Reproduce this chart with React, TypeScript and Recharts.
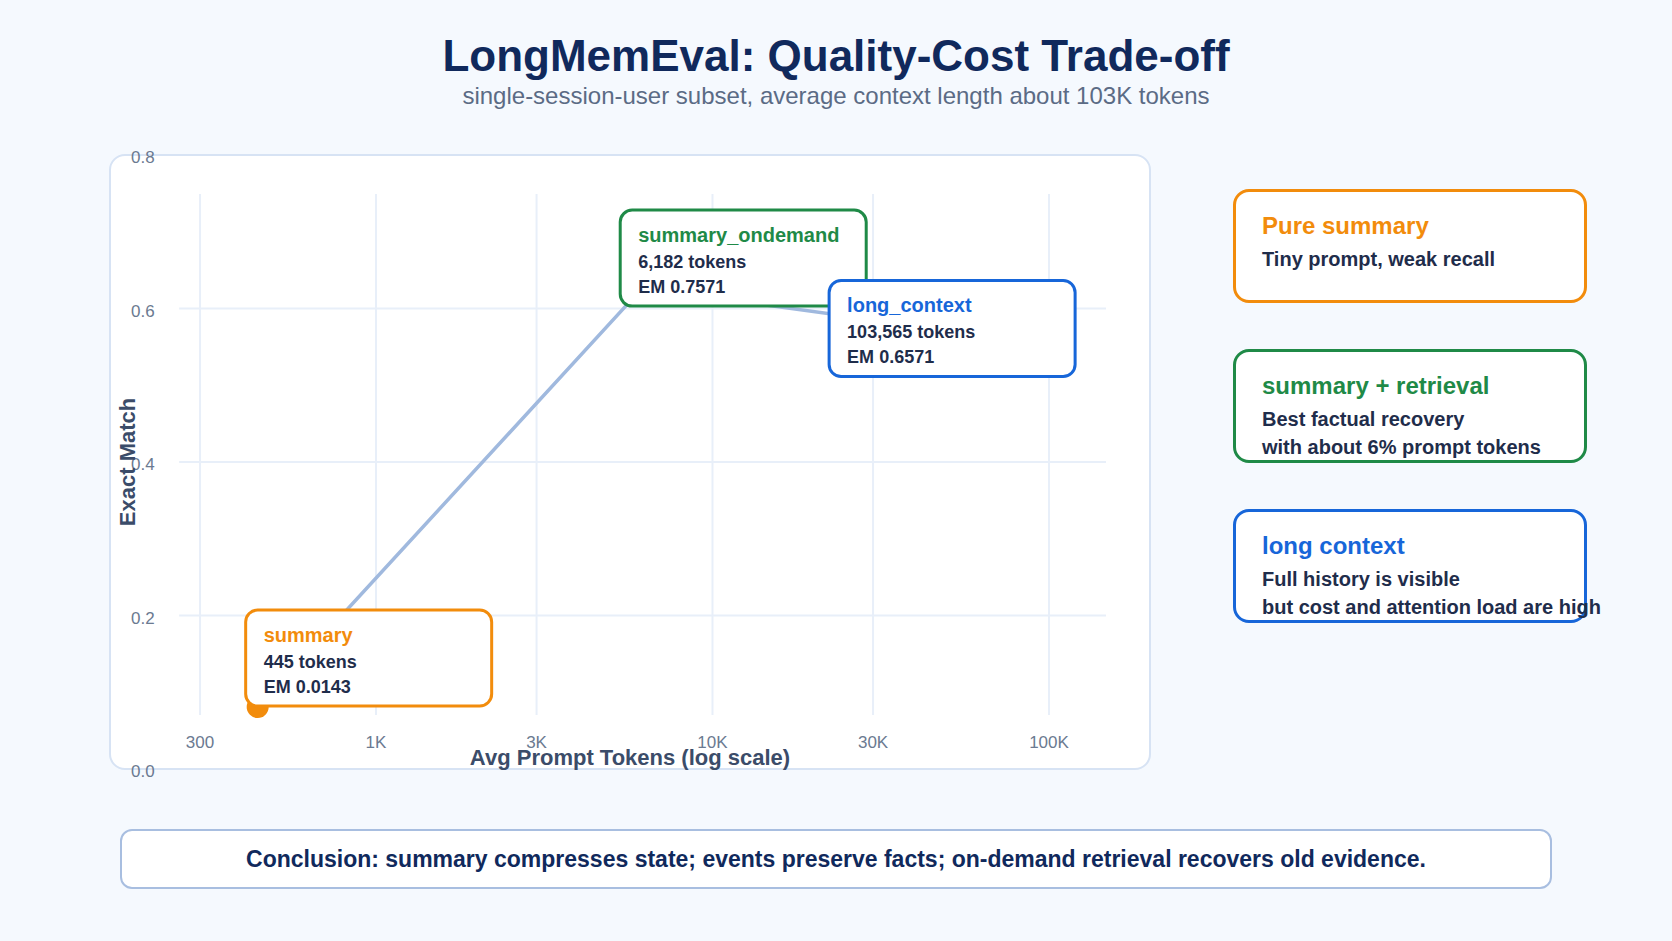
import {
  ComposedChart,
  Line,
  ReferenceDot,
  ReferenceLine,
  XAxis,
  YAxis,
} from "recharts";

// LongMemEval single-session-user results
const methods = ["summary", "summary_ondemand", "long_context"];
const avgPromptTokens = [445, 6182, 103565];
const exactMatch = [0.0143, 0.7571, 0.6571];
const methodColors = ["#f28c0c", "#1f8a47", "#1766d9"];

const xTicks = [300, 1000, 3000, 10000, 30000, 100000];
const xTickLabels = ["300", "1K", "3K", "10K", "30K", "100K"];
const yTicks = [0, 0.2, 0.4, 0.6, 0.8];
const yGridValues = [0.2, 0.4, 0.6];

const cardTitles = ["Pure summary", "summary + retrieval", "long context"];
const cardLines = [
  ["Tiny prompt, weak recall"],
  ["Best factual recovery", "with about 6% prompt tokens"],
  ["Full history is visible", "but cost and attention load are high"],
];

const conclusion =
  "Conclusion: summary compresses state; events preserve facts; on-demand retrieval recovers old evidence.";

// axis / layout settings
const X_DOMAIN: [number, number] = [162, 199600];
const DATA_Y_DOMAIN: [number, number] = [-0.0956, 0.9931];
const GRID_X: [number, number] = [260, 147700];
const GRID_Y: [number, number] = [0, 0.924];
const calloutOffsets = [
  [-12, -97],
  [-22, -78],
  [-225, -64],
];

const NAVY = "#10295c";
const INK = "#1f2d4b";
const GRID = "#e8eff9";
const FONT = '"Liberation Sans", Arial, sans-serif';

const rows = methods.map((m, i) => ({
  method: m,
  tokens: avgPromptTokens[i],
  em: exactMatch[i],
}));

const renderDot = (props: any) => (
  <circle
    key={`dot-${props.index}`}
    cx={props.cx}
    cy={props.cy}
    r={11}
    fill={methodColors[props.index]}
  />
);

function calloutShape(i: number) {
  return (props: any) => {
    const x = props.cx + calloutOffsets[i][0];
    const y = props.cy + calloutOffsets[i][1];
    return (
      <g>
        <rect
          x={x}
          y={y}
          width={246}
          height={96}
          rx={12}
          fill="#ffffff"
          stroke={methodColors[i]}
          strokeWidth={3}
        />
        <text x={x + 18} y={y + 32} fill={methodColors[i]} fontSize={20} fontWeight={700} fontFamily={FONT}>
          {methods[i]}
        </text>
        <text x={x + 18} y={y + 58} fill={INK} fontSize={18} fontWeight={700} fontFamily={FONT}>
          {avgPromptTokens[i].toLocaleString("en-US")} tokens
        </text>
        <text x={x + 18} y={y + 83} fill={INK} fontSize={18} fontWeight={700} fontFamily={FONT}>
          EM {exactMatch[i].toFixed(4)}
        </text>
      </g>
    );
  };
}

function Card({ index, top }: { index: number; top: number }) {
  const color = methodColors[index];
  return (
    <div
      style={{
        position: "absolute",
        left: 1233,
        top,
        width: 354,
        height: 114,
        boxSizing: "border-box",
        border: `3px solid ${color}`,
        borderRadius: 16,
        background: "#ffffff",
      }}
    >
      <div
        style={{
          position: "absolute",
          left: 26,
          top: 18.5,
          lineHeight: "30px",
          fontSize: 24,
          fontWeight: 700,
          color,
          whiteSpace: "nowrap",
        }}
      >
        {cardTitles[index]}
      </div>
      {cardLines[index].map((line, j) => (
        <div
          key={line}
          style={{
            position: "absolute",
            left: 26,
            top: 52.5 + j * 28,
            lineHeight: "28px",
            fontSize: 20,
            fontWeight: 700,
            color: INK,
            whiteSpace: "nowrap",
          }}
        >
          {line}
        </div>
      ))}
    </div>
  );
}

export default function App() {
  return (
    <div
      style={{
        position: "relative",
        width: 1672,
        height: 941,
        background: "#f5f9fe",
        fontFamily: FONT,
        overflow: "hidden",
      }}
    >
      <style>{`body { margin: 0; }`}</style>

      <div
        style={{
          position: "absolute",
          top: 31,
          width: "100%",
          textAlign: "center",
          fontSize: 44,
          lineHeight: "50px",
          fontWeight: 700,
          color: NAVY,
        }}
      >
        LongMemEval: Quality-Cost Trade-off
      </div>
      <div
        style={{
          position: "absolute",
          top: 82,
          width: "100%",
          textAlign: "center",
          fontSize: 24,
          lineHeight: "28px",
          color: "#5b6b85",
        }}
      >
        single-session-user subset, average context length about 103K tokens
      </div>

      {/* plot panel */}
      <div
        style={{
          position: "absolute",
          left: 109,
          top: 154,
          width: 1042,
          height: 616,
          boxSizing: "border-box",
          border: "2px solid #d7e3f4",
          borderRadius: 16,
          background: "#ffffff",
        }}
      />

      <div style={{ position: "absolute", left: 100, top: 140 }}>
        <ComposedChart
          width={1060}
          height={640}
          data={rows}
          margin={{ top: 15, right: 10, bottom: 11, left: 10 }}
          style={{ fontFamily: FONT }}
        >
          <XAxis
            dataKey="tokens"
            type="number"
            scale="log"
            domain={X_DOMAIN}
            allowDataOverflow
            ticks={xTicks}
            interval={0}
            tickFormatter={(v: number) => xTickLabels[xTicks.indexOf(v)]}
            mirror
            height={1}
            axisLine={false}
            tickLine={false}
            tickSize={19}
            tickMargin={2}
            tick={{ fill: "#6b7a91", fontSize: 17 }}
            label={{
              value: "Avg Prompt Tokens (log scale)",
              position: "insideBottom",
              offset: 4,
              fill: "#3b4c69",
              fontSize: 22,
              fontWeight: 700,
            }}
          />
          <YAxis
            yAxisId="em"
            type="number"
            domain={[0, 0.8]}
            allowDataOverflow
            ticks={yTicks}
            interval={0}
            tickFormatter={(v: number) => v.toFixed(1)}
            mirror
            width={1}
            axisLine={false}
            tickLine={false}
            tickSize={19}
            tickMargin={2}
            tick={{ fill: "#6b7a91", fontSize: 17, dy: 2 }}
            label={{
              value: "Exact Match",
              angle: -90,
              position: "insideLeft",
              offset: 17,
              fill: "#3b4c69",
              fontSize: 22,
              fontWeight: 700,
              style: { textAnchor: "middle" },
            }}
          />
          <YAxis yAxisId="data" type="number" domain={DATA_Y_DOMAIN} allowDataOverflow hide />

          {xTicks.map((t) => (
            <ReferenceLine
              key={`vx-${t}`}
              yAxisId="data"
              segment={[
                { x: t, y: GRID_Y[0] },
                { x: t, y: GRID_Y[1] },
              ]}
              stroke={GRID}
              strokeWidth={2}
              ifOverflow="visible"
              zIndex={-100}
            />
          ))}
          {yGridValues.map((v) => (
            <ReferenceLine
              key={`hy-${v}`}
              yAxisId="em"
              segment={[
                { x: GRID_X[0], y: v },
                { x: GRID_X[1], y: v },
              ]}
              stroke={GRID}
              strokeWidth={2}
              ifOverflow="visible"
              zIndex={-100}
            />
          ))}

          <Line
            yAxisId="data"
            dataKey="em"
            stroke="#a0b9de"
            strokeWidth={3.5}
            dot={renderDot}
            activeDot={false}
            isAnimationActive={false}
          />

          {rows.map((r, i) => (
            <ReferenceDot
              key={r.method}
              yAxisId="data"
              x={r.tokens}
              y={r.em}
              r={0}
              shape={calloutShape(i)}
              ifOverflow="visible"
              zIndex={2000}
            />
          ))}
        </ComposedChart>
      </div>

      <Card index={0} top={189} />
      <Card index={1} top={349} />
      <Card index={2} top={509} />

      <div
        style={{
          position: "absolute",
          left: 120,
          top: 829,
          width: 1432,
          height: 60,
          boxSizing: "border-box",
          border: "2px solid #a8bee0",
          borderRadius: 12,
          background: "#ffffff",
          textAlign: "center",
          lineHeight: "56px",
          fontSize: 23,
          fontWeight: 700,
          color: NAVY,
          whiteSpace: "nowrap",
        }}
      >
        {conclusion}
      </div>
    </div>
  );
}
